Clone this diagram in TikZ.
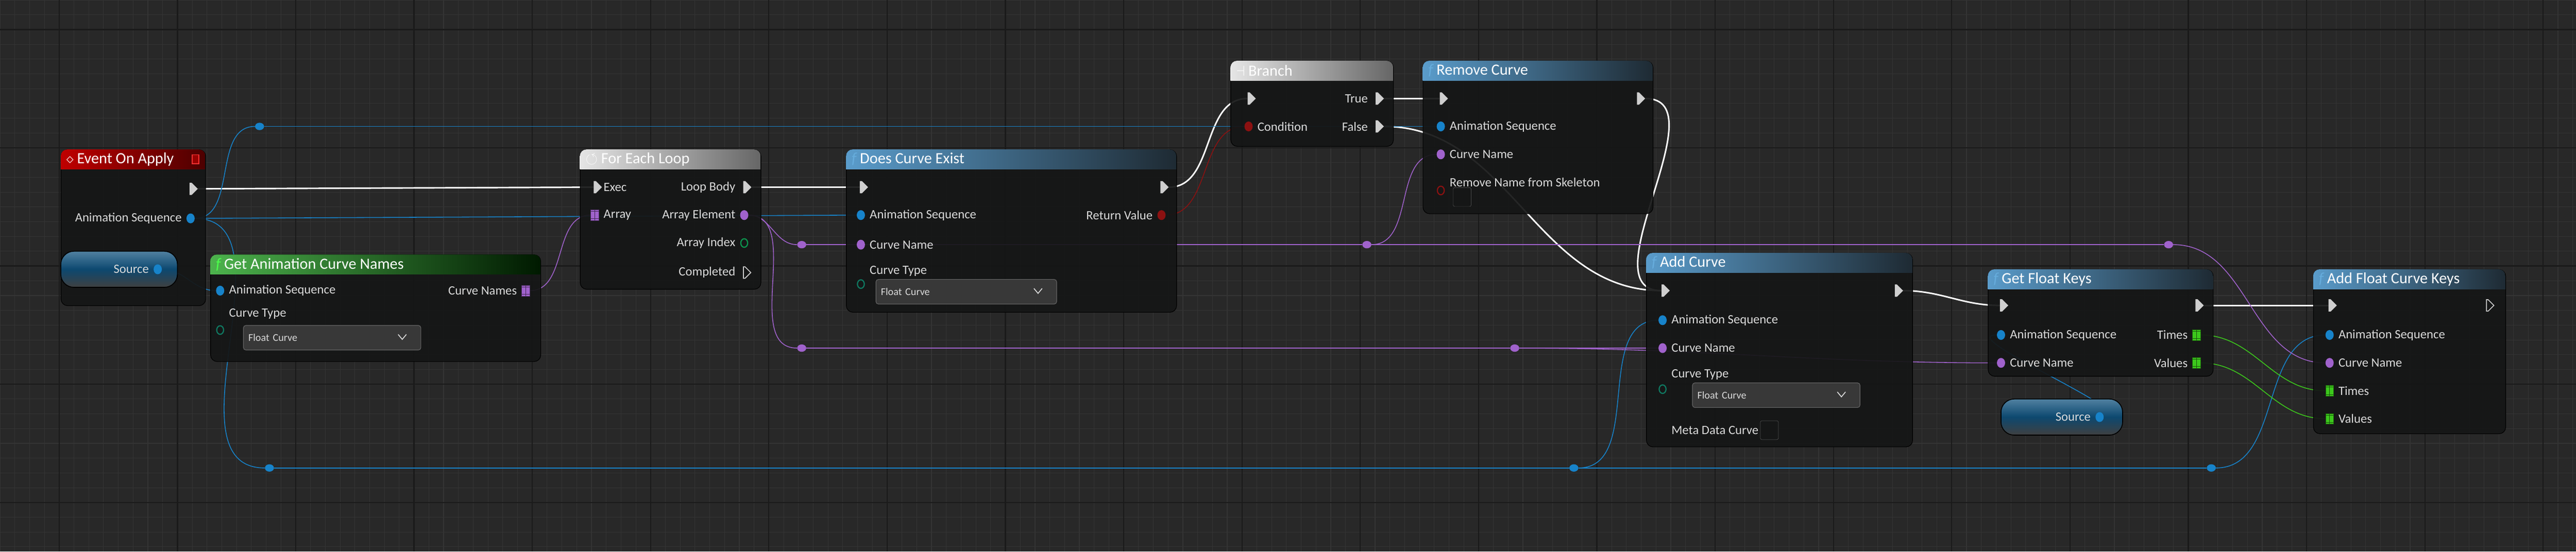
\documentclass[tikz,border=0pt]{standalone}
\usepackage{fontspec}
\usepackage{amssymb}
\setmainfont{Carlito}
\usetikzlibrary{shapes.symbols,shapes.geometric,backgrounds}

\definecolor{gridbg}{HTML}{282828}
\definecolor{gridmin}{HTML}{343434}
\definecolor{gridmaj}{HTML}{1A1A1A}
\definecolor{nodebg}{HTML}{151616}
\definecolor{labtxt}{HTML}{DADADA}
\definecolor{execgrey}{HTML}{CFCFCF}
\definecolor{seqblue}{HTML}{1783CA}
\definecolor{namepurple}{HTML}{A062CC}
\definecolor{enumteal}{HTML}{0F7A62}
\definecolor{boolred}{HTML}{8C1111}
\definecolor{floatgreen}{HTML}{3CC81C}
\definecolor{dropbg}{HTML}{383838}
\definecolor{fnblue}{HTML}{66ACDC}
\definecolor{fnhead}{HTML}{5A9CCB}
\definecolor{fndark}{HTML}{1E2A33}

% body of a blueprint node with its shaded title bar
\newcommand\bpnode[8]{%
  \node[body, minimum width=#4mm, minimum height=#5mm] (#1) at (#2,#3) {};
  \begin{scope}
    \clip (#2,#3) rectangle (#2+#4,#3+12);
    \shade[left color=#6, right color=#7, rounded corners=0.4cm] (#2,#3) rectangle (#2+#4,#3+20);
  \end{scope}
  \node[ttl, anchor=west] (#1-t) at (#2+3,#3+6) {#8};
}
% dropdown box
\newcommand\dropbox[4]{%
  \node[drop, text width=#3mm-6mm, anchor=north west] (#1) at (#2) {Float Curve};
  \draw[labtxt, line width=1.5pt] ([xshift=-1.4cm,yshift=0.2cm]#1.east) -- ++(0.25cm,-0.3cm) -- ++(0.25cm,0.3cm);
}

\begin{document}
\begin{tikzpicture}[
    x=0.1cm, y=-0.1cm,
    body/.style={fill=nodebg, fill opacity=0.93, draw=black, line width=1pt, rounded corners=0.4cm, anchor=north west, inner sep=0},
    ttl/.style={text=white, font=\fontsize{27}{30}\selectfont, inner sep=1pt},
    lbl/.style={text=labtxt, font=\fontsize{22}{26}\selectfont, inner sep=1pt},
    drop/.style={fill=dropbg, draw=black!60, line width=1pt, rounded corners=0.15cm, minimum height=1.5cm, inner ysep=0, text=labtxt,
                 font=\fontsize{18}{21}\selectfont, align=left, inner xsep=0.3cm},
    exec/.style={signal, signal to=east, fill=execgrey, minimum width=0.5cm, minimum height=0.75cm, inner sep=0},
    execo/.style={signal, signal to=east, draw=execgrey, line width=1.5pt, minimum width=0.45cm, minimum height=0.7cm, inner sep=0},
    dpin/.style={ellipse, fill=#1, minimum width=0.5cm, minimum height=0.6cm, inner sep=0},
    dpino/.style={ellipse, draw=#1, line width=2pt, minimum width=0.42cm, minimum height=0.52cm, inner sep=0},
    apin/.style={rectangle, fill=#1, draw=#1!50!black, minimum width=0.5cm, minimum height=0.65cm, inner sep=0,
                 path picture={\draw[#1!40!black, line width=0.8pt] (path picture bounding box.north) -- (path picture bounding box.south)
                   ([yshift=0.22cm]path picture bounding box.west) -- ([yshift=0.22cm]path picture bounding box.east)
                   ([yshift=-0.22cm]path picture bounding box.west) -- ([yshift=-0.22cm]path picture bounding box.east);}},
    knot/.style={ellipse, fill=#1, minimum width=0.55cm, minimum height=0.45cm, inner sep=0},
    wire/.style={line width=1.4pt, draw=#1},
    ewire/.style={line width=2.6pt, draw=white},
    chk/.style={draw=black!60, fill=nodebg, rounded corners=0.1cm, minimum width=1.1cm, minimum height=1.15cm, inner sep=0},
    varbox/.style={rounded corners=0.8cm, draw=black, line width=1.5pt, top color=#1!45!gray, bottom color=black!75, middle color=#1!55!black},
]
\useasboundingbox (0,0) rectangle (1568,336);

% nodes
\bpnode{evt}{37}{91}{88}{95}{red!75!black}{black!70!red}{$\diamond$ Event On Apply}
\node[draw=red!80, fill=red!60!black, line width=1.5pt, minimum width=0.4cm, minimum height=0.55cm, inner sep=0] (evt-x) at (119,97) {};
\bpnode{gacn}{128}{155}{201}{65}{green!40!gray}{green!10!black}{\textcolor{green!70!white}{\itshape f}\ Get Animation Curve Names}
\bpnode{loop}{353}{91}{110}{85}{white!90!black}{black!60}{$\circlearrowleft$ For Each Loop}
\bpnode{dce}{515}{91}{201}{99}{fnhead}{fndark}{\textcolor{fnblue}{\itshape f}\ Does Curve Exist}
\bpnode{br}{749}{37}{99}{52}{white!90!black}{black!60}{$\dashv$ Branch}
\bpnode{rc}{866}{37}{140}{93}{fnhead}{fndark}{\textcolor{fnblue}{\itshape f}\ Remove Curve}
\bpnode{ac}{1002}{154}{162}{118}{fnhead}{fndark}{\textcolor{fnblue}{\itshape f}\ Add Curve}
\bpnode{gfk}{1210}{164}{137}{65}{fnhead}{fndark}{\textcolor{fnblue}{\itshape f}\ Get Float Keys}
\bpnode{afk}{1408}{164}{117}{100}{fnhead}{fndark}{\textcolor{fnblue}{\itshape f}\ Add Float Curve Keys}

\shade[varbox=seqblue] (37,153) rectangle (108,175);
\node[lbl, anchor=east] (src1-l) at (91,164) {Source};
\shade[varbox=seqblue] (1218,243) rectangle (1292,265);
\node[lbl, anchor=east] (src2-l) at (1273,254) {Source};

% pins
\node[exec] (evt-o) at (116,115) {};
\node[dpin=seqblue] (evt-seq) at (116,133) {};
\node[lbl, anchor=east] at (111,133) {Animation Sequence};
\node[dpin=seqblue] (src1) at (96,164) {};
\node[dpin=seqblue] (src2) at (1278,254) {};

\node[dpin=seqblue] (gacn-seq) at (134,177) {};
\node[lbl, anchor=west] at (139,177) {Animation Sequence};
\node[apin=namepurple] (gacn-names) at (320,177) {};
\node[lbl, anchor=east] at (315,177) {Curve Names};
\node[lbl, anchor=west] at (139,191) {Curve Type};
\node[dpino=enumteal] (gacn-type) at (134,201) {};
\dropbox{gacn-d}{148,198}{108}

\node[exec] (loop-i) at (362,114) {};
\node[lbl, anchor=west] at (367,114) {Exec};
\node[exec] (loop-body) at (453,114) {};
\node[lbl, anchor=east] at (448,114) {Loop Body};
\node[apin=namepurple] (loop-arr) at (362,131) {};
\node[lbl, anchor=west] at (367,131) {Array};
\node[dpin=namepurple] (loop-el) at (453,131) {};
\node[lbl, anchor=east] at (448,131) {Array Element};
\node[dpino=enumteal!80!green] (loop-idx) at (453,148) {};
\node[lbl, anchor=east] at (448,148) {Array Index};
\node[execo] (loop-done) at (453,166) {};
\node[lbl, anchor=east] at (448,166) {Completed};

\node[exec] (dce-i) at (524,114) {};
\node[exec] (dce-o) at (707,114) {};
\node[dpin=seqblue] (dce-seq) at (524,131) {};
\node[lbl, anchor=west] at (529,131) {Animation Sequence};
\node[dpin=boolred] (dce-ret) at (707,131) {};
\node[lbl, anchor=east] at (702,131) {Return Value};
\node[dpin=namepurple] (dce-name) at (524,149) {};
\node[lbl, anchor=west] at (529,149) {Curve Name};
\node[lbl, anchor=west] at (529,165) {Curve Type};
\node[dpino=enumteal] (dce-type) at (524,173) {};
\dropbox{dce-d}{533,170}{110}

\node[exec] (br-i) at (760,60) {};
\node[exec] (br-t) at (838,60) {};
\node[lbl, anchor=east] at (833,60) {True};
\node[dpin=boolred] (br-c) at (760,77) {};
\node[lbl, anchor=west] at (765,77) {Condition};
\node[exec] (br-f) at (838,77) {};
\node[lbl, anchor=east] at (833,77) {False};

\node[exec] (rc-i) at (877,60) {};
\node[exec] (rc-o) at (997,60) {};
\node[dpin=seqblue] (rc-seq) at (877,77) {};
\node[lbl, anchor=west] at (882,77) {Animation Sequence};
\node[dpin=namepurple] (rc-name) at (877,94) {};
\node[lbl, anchor=west] at (882,94) {Curve Name};
\node[lbl, anchor=west] at (882,111) {Remove Name from Skeleton};
\node[dpino=boolred] (rc-rm) at (877,116) {};
\node[chk] (rc-box) at (890,120) {};

\node[exec] (ac-i) at (1012,177) {};
\node[exec] (ac-o) at (1154,177) {};
\node[dpin=seqblue] (ac-seq) at (1012,195) {};
\node[lbl, anchor=west] at (1017,195) {Animation Sequence};
\node[dpin=namepurple] (ac-name) at (1012,212) {};
\node[lbl, anchor=west] at (1017,212) {Curve Name};
\node[lbl, anchor=west] at (1017,228) {Curve Type};
\node[dpino=enumteal] (ac-type) at (1012,237) {};
\dropbox{ac-d}{1030,233}{102}
\node[dpino=boolred] (ac-meta) at (1012,262) {};
\node[lbl, anchor=west] at (1017,262) {Meta Data Curve};
\node[chk] (ac-box) at (1077,262) {};

\node[exec] (gfk-i) at (1218,186) {};
\node[exec] (gfk-o) at (1337,186) {};
\node[dpin=seqblue] (gfk-seq) at (1218,204) {};
\node[lbl, anchor=west] at (1223,204) {Animation Sequence};
\node[apin=floatgreen] (gfk-times) at (1337,204) {};
\node[lbl, anchor=east] at (1332,204) {Times};
\node[dpin=namepurple] (gfk-name) at (1218,221) {};
\node[lbl, anchor=west] at (1223,221) {Curve Name};
\node[apin=floatgreen] (gfk-vals) at (1337,221) {};
\node[lbl, anchor=east] at (1332,221) {Values};

\node[exec] (afk-i) at (1418,186) {};
\node[execo] (afk-o) at (1514,186) {};
\node[dpin=seqblue] (afk-seq) at (1418,204) {};
\node[lbl, anchor=west] at (1423,204) {Animation Sequence};
\node[dpin=namepurple] (afk-name) at (1418,221) {};
\node[lbl, anchor=west] at (1423,221) {Curve Name};
\node[apin=floatgreen] (afk-times) at (1418,238) {};
\node[lbl, anchor=west] at (1423,238) {Times};
\node[apin=floatgreen] (afk-vals) at (1418,255) {};
\node[lbl, anchor=west] at (1423,255) {Values};

% reroute knots
\node[knot=seqblue] (k1) at (158,77) {};
\node[knot=seqblue] (k2) at (164,285) {};
\node[knot=seqblue] (k3) at (958,285) {};
\node[knot=seqblue] (k4) at (1346,285) {};
\node[knot=namepurple] (k5) at (488,149) {};
\node[knot=namepurple] (k6) at (488,212) {};
\node[knot=namepurple] (k7) at (832,149) {};
\node[knot=namepurple] (k8) at (922,212) {};
\node[knot=namepurple] (k9) at (1320,149) {};

\begin{pgfonlayer}{background}
\fill[gridbg] (0,0) rectangle (1568,336);
\foreach \gx in {0,9,...,1568} \draw[gridmin, line width=1pt] (\gx,0) -- (\gx,336);
\foreach \gy in {0,9,...,336} \draw[gridmin, line width=1pt] (0,\gy) -- (1568,\gy);
\foreach \gx in {36,108,...,1568} \draw[gridmaj, line width=2pt] (\gx,0) -- (\gx,336);
\foreach \gy in {18,90,...,336} \draw[gridmaj, line width=2pt] (0,\gy) -- (1568,\gy);
% connectors
\draw[ewire] (evt-o) -- (loop-i);
\draw[ewire] (loop-body) -- (dce-i);
\draw[ewire] (dce-o) to[out=0,in=180] (br-i);
\draw[ewire] (br-t) -- (rc-i);
\draw[ewire] (br-f) to[out=0,in=180] (ac-i);
\draw[ewire] (rc-o) to[out=0,in=180] (ac-i);
\draw[ewire] (ac-o) to[out=0,in=180] (gfk-i);
\draw[ewire] (gfk-o) -- (afk-i);
\draw[wire=boolred] (dce-ret) to[out=0,in=180] (br-c);
\draw[wire=seqblue] (evt-seq) to[out=0,in=180] (k1);
\draw[wire=seqblue] (k1) -- (rc-seq);
\draw[wire=seqblue] (evt-seq) -- (dce-seq);
\draw[wire=seqblue] (evt-seq) to[out=0,in=180] (k2);
\draw[wire=seqblue] (k2) -- (k3) -- (k4);
\draw[wire=seqblue] (k3) to[out=0,in=180] (ac-seq);
\draw[wire=seqblue] (k4) to[out=0,in=180] (afk-seq);
\draw[wire=seqblue] (src1) to[out=0,in=180] (gacn-seq);
\draw[wire=seqblue] (src2) .. controls +(30,0) and +(-30,0) .. (gfk-seq);
\draw[wire=namepurple] (gacn-names) to[out=0,in=180] (loop-arr);
\draw[wire=namepurple] (loop-el) to[out=0,in=180] (k5);
\draw[wire=namepurple] (loop-el) to[out=0,in=180] (k6);
\draw[wire=namepurple] (k5) -- (dce-name);
\draw[wire=namepurple] (k5) -- (k7) -- (k9);
\draw[wire=namepurple] (k7) to[out=0,in=180] (rc-name);
\draw[wire=namepurple] (k9) to[out=0,in=180] (afk-name);
\draw[wire=namepurple] (k6) -- (k8) -- (ac-name);
\draw[wire=namepurple] (k8) to[out=0,in=180] (gfk-name);
\draw[wire=floatgreen] (gfk-times) to[out=0,in=180] (afk-times);
\draw[wire=floatgreen] (gfk-vals) to[out=0,in=180] (afk-vals);
\end{pgfonlayer}
\end{tikzpicture}
\end{document}
